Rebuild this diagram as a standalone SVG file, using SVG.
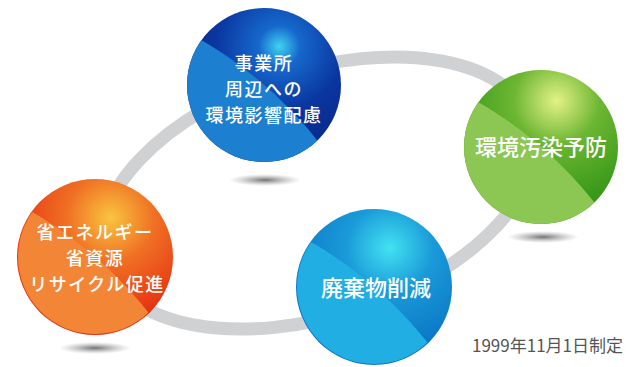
<svg xmlns="http://www.w3.org/2000/svg" width="627" height="367" viewBox="0 0 627 367">
<style>
.ring{fill:none;stroke:#d0d1d3;stroke-width:13}
.lbl{fill:#fff;font-family:"Noto Sans CJK JP","Noto Sans",sans-serif;font-weight:500;text-anchor:middle}
.m{font-size:18px;letter-spacing:1.5px}
.s{font-size:22px}
.date{fill:#555;font-family:"Noto Sans CJK JP","Noto Sans",sans-serif;font-size:17px;text-anchor:end}
</style>
<defs>
<clipPath id="cc"><circle r="77"/></clipPath>
<path id="light" d="M-75,-52 Q6,-8 60,64 L60,100 L-100,100 L-100,-52 Z"/>
<radialGradient id="sh"><stop offset="0" stop-color="#444" stop-opacity="0.75"/><stop offset="1" stop-color="#888" stop-opacity="0"/></radialGradient>
<radialGradient id="gB" cx="0.6" cy="0.25" r="0.75" fx="0.6" fy="0.25"><stop offset="0" stop-color="#3fd3f2"/><stop offset="0.18" stop-color="#1668cc"/><stop offset="0.55" stop-color="#0a36a0"/><stop offset="1" stop-color="#062688"/></radialGradient>
<radialGradient id="gG" cx="0.6" cy="0.2" r="0.8" fx="0.6" fy="0.2"><stop offset="0" stop-color="#e4f286"/><stop offset="0.35" stop-color="#6cb632"/><stop offset="0.8" stop-color="#3a9a1a"/><stop offset="1" stop-color="#35941a"/></radialGradient>
<radialGradient id="gO" cx="0.6" cy="0.25" r="0.8" fx="0.6" fy="0.25"><stop offset="0" stop-color="#f9c540"/><stop offset="0.35" stop-color="#f07024"/><stop offset="0.8" stop-color="#e63312"/><stop offset="1" stop-color="#e22d10"/></radialGradient>
<radialGradient id="gC" cx="0.6" cy="0.25" r="0.8" fx="0.6" fy="0.25"><stop offset="0" stop-color="#42e2f2"/><stop offset="0.35" stop-color="#1a9ad8"/><stop offset="0.8" stop-color="#0b78c8"/><stop offset="1" stop-color="#0a72c2"/></radialGradient>
</defs>
<g id="connectors">
<ellipse class="ring" cx="318" cy="193" rx="225" ry="123" transform="rotate(-18 318 193)"/>
</g>
<g id="shadows">
<ellipse cx="265" cy="180" rx="36" ry="6" fill="url(#sh)"/>
<ellipse cx="543" cy="237" rx="36" ry="6" fill="url(#sh)"/>
<ellipse cx="95" cy="348" rx="36" ry="6" fill="url(#sh)"/>
</g>
<g id="node-top" transform="translate(264,85)">
<circle r="77" fill="url(#gB)"/>
<use href="#light" fill="#1c7fd0" clip-path="url(#cc)"/>
<text class="lbl m" y="-15">事業所</text>
<text class="lbl m" y="11">周辺への</text>
<text class="lbl m" y="37">環境影響配慮</text>
</g>
<g id="node-right" transform="translate(541,147)">
<circle r="77" fill="url(#gG)"/>
<use href="#light" fill="#8cc653" clip-path="url(#cc)"/>
<text class="lbl s" y="8">環境汚染予防</text>
</g>
<g id="node-left" transform="translate(95,257)">
<circle r="78" fill="url(#gO)"/>
<use href="#light" fill="#f38636" clip-path="url(#cc)"/>
<text class="lbl m" y="-18">省エネルギー</text>
<text class="lbl m" y="8">省資源</text>
<text class="lbl m" x="2" y="34">リサイクル促進</text>
</g>
<g id="node-bottom" transform="translate(374,287)">
<circle r="78" fill="url(#gC)"/>
<use href="#light" fill="#21aee3" clip-path="url(#cc)"/>
<text class="lbl s" x="2" y="9">廃棄物削減</text>
</g>
<text class="date" x="623" y="352">1999年11月1日制定</text>
</svg>
